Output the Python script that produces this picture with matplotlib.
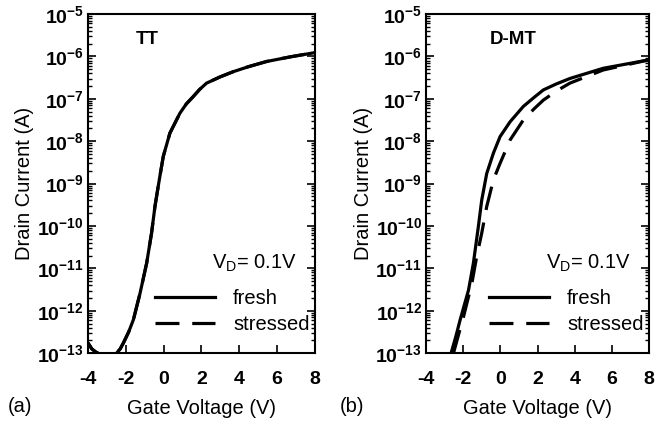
import matplotlib
matplotlib.use('Agg')
import numpy as np
from matplotlib import pyplot as plt
from matplotlib.ticker import LogLocator, FixedLocator, FuncFormatter, NullLocator

plt.rcParams['font.family'] = ['Liberation Sans', 'DejaVu Sans']
plt.rcParams['mathtext.fontset'] = 'custom'
plt.rcParams['mathtext.rm'] = 'Liberation Sans'
plt.rcParams['mathtext.bf'] = 'Liberation Sans:bold'
plt.rcParams['axes.unicode_minus'] = False

# TT device: fresh and stressed curves overlap
tt_vg = [-4.0, -3.8, -3.6, -3.4, -3.0, -2.6, -2.49, -2.3, -2.13, -1.85, -1.6, -1.25, -0.9,
         -0.64, -0.46, -0.23, -0.02, 0.33, 0.86, 1.2, 1.56, 1.9, 2.27, 3.0, 3.68, 4.5, 5.44,
         6.7, 8.0]
tt_fresh_log = [-12.76, -12.9, -12.97, -13.02, -13.05, -13.05, -13.0, -12.9, -12.76, -12.5, -12.21,
                -11.59, -10.88, -10.17, -9.54, -8.91, -8.36, -7.81, -7.34, -7.12, -6.95, -6.78,
                -6.63, -6.48, -6.36, -6.24, -6.12, -6.01, -5.91]
tt_stress_log = tt_fresh_log

# D-MT device
dmt_vg_fresh = [-2.66, -2.4, -2.17, -1.72, -1.46, -1.19, -1.01, -0.74, -0.38, -0.02, 0.52, 1.23,
                1.8, 2.31, 3.0, 3.74, 5.53, 8.0]
dmt_fresh_log = [-13.0, -12.6, -12.21, -11.51, -10.88, -10.01, -9.39, -8.76, -8.28, -7.89, -7.54,
                 -7.18, -6.97, -6.79, -6.65, -6.52, -6.28, -6.08]
dmt_vg_stress = [-2.53, -2.25, -1.99, -1.54, -1.28, -1.01, -0.74, -0.38, -0.02, 0.52, 1.23,
                 1.8, 2.31, 3.0, 3.74, 5.53, 8.0]
dmt_stress_log = [-13.0, -12.55, -12.14, -11.35, -10.72, -10.17, -9.54, -8.91, -8.52, -7.97, -7.5,
                  -7.24, -7.03, -6.82, -6.63, -6.32, -6.08]

x_ticks = [-4, -2, 0, 2, 4, 6, 8]


def draw_panel(ax, vg_f, log_f, vg_s, log_s, name, name_x):
	ax.plot(vg_f, 10.0 ** np.array(log_f), color='black', lw=2.3, label='fresh')
	ax.plot(vg_s, 10.0 ** np.array(log_s), color='black', lw=2.3,
		linestyle=(0, (7.5, 4)), label='stressed')
	ax.set_yscale('log')
	ax.set_xlim(-4, 8)
	ax.set_ylim(1e-13, 1e-5)
	ax.xaxis.set_major_locator(FixedLocator(x_ticks))
	ax.xaxis.set_minor_locator(NullLocator())
	ax.yaxis.set_major_locator(LogLocator(base=10, numticks=20))
	ax.yaxis.set_minor_locator(LogLocator(base=10, subs=np.arange(2, 10), numticks=20))
	ax.yaxis.set_major_formatter(FuncFormatter(lambda v, p: r'$\mathbf{10^{%d}}$' % round(np.log10(v))))
	ax.tick_params(axis='y', which='both', direction='in', left=True, right=True, pad=3,
		labelsize=14)
	ax.tick_params(axis='y', which='major', length=6, width=1.2)
	ax.tick_params(axis='y', which='minor', length=3, width=1)
	ax.tick_params(axis='x', which='major', direction='in', length=6, width=1.2, top=False,
		pad=13, labelsize=14)
	for lbl in ax.get_xticklabels():
		lbl.set_fontweight('bold')
	for s in ax.spines.values():
		s.set_linewidth(1.5)
	ax.set_xlabel('Gate Voltage (V)', fontsize=14.5, labelpad=8)
	ax.set_ylabel('Drain Current (A)', fontsize=14.5, labelpad=2)
	ax.text(name_x, 0.925, name, transform=ax.transAxes, fontsize=13.5, fontweight='bold',
		ha='center', va='center')
	ax.text(0.92, 0.265, r'V$_\mathrm{D}$= 0.1V', transform=ax.transAxes, fontsize=14.5,
		ha='right', va='center')
	ax.legend(loc='lower right', bbox_to_anchor=(1.03, 0.02), frameon=False, fontsize=14.5,
		handlelength=3.0, handletextpad=0.9, labelspacing=0.35, borderaxespad=0.2)


def main():
	fig = plt.figure(figsize=(6.67, 4.26), dpi=100)
	ax1 = fig.add_axes([0.132, 0.171, 0.340, 0.796])
	ax2 = fig.add_axes([0.639, 0.171, 0.334, 0.796])

	draw_panel(ax1, tt_vg, tt_fresh_log, tt_vg, tt_stress_log, 'TT', 0.26)
	draw_panel(ax2, dmt_vg_fresh, dmt_fresh_log, dmt_vg_stress, dmt_stress_log, 'D-MT', 0.39)

	fig.text(0.012, 0.045, '(a)', fontsize=14.5, ha='left', va='center')
	fig.text(0.51, 0.045, '(b)', fontsize=14.5, ha='left', va='center')

	fig.savefig('out.png', dpi=100)


if __name__ == "__main__":
	main()
